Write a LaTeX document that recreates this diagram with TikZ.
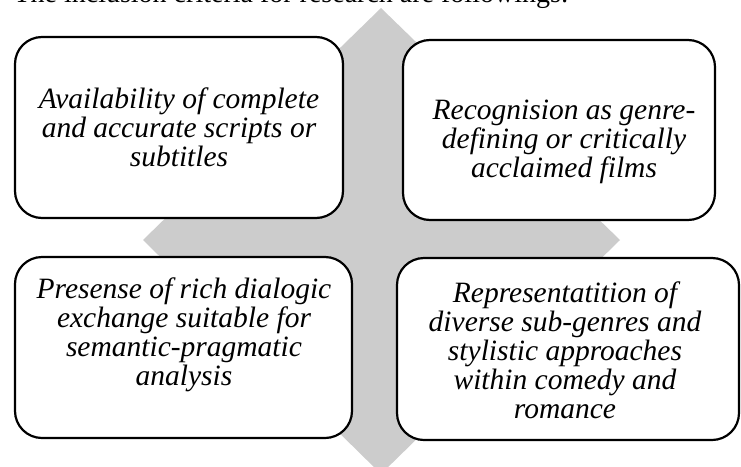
\documentclass[tikz,border=0pt]{standalone}
\usepackage{fontspec}
\setmainfont{Liberation Serif}[ItalicFont={Liberation Serif Italic}]
\definecolor{fond}{RGB}{204,204,204}
\begin{document}
\begin{tikzpicture}[x=1pt, y=-1pt]
	\tikzset{critere/.style={draw=black, line width=2.2pt, rounded corners=27pt, fill=white, inner sep=0pt},
	texte/.style={align=center, font=\itshape\fontsize{29.5}{29}\selectfont}};

	\useasboundingbox (0,0) rectangle (741,466);
	\clip (0,0) rectangle (741,466);

	\node[anchor=base west, font=\fontsize{28}{32}\selectfont] (titre) at (10,2) {The inclusion criteria for research are followings:};
	\fill[fond] (381,8) -- (620,240) -- (381,474) -- (143,240) -- cycle;

	\foreach \name/\x/\y/\w/\h in {hg/179/127.5/328/181, hd/559/130/312/180, bg/183.5/347.5/337/181, bd/568/349/342/182}{
		\node[critere, minimum width=\w pt, minimum height=\h pt] (\name) at (\x, \y) {};
	}

	\node[texte] (t-hg) at (179,127) {Availability of complete\\and accurate scripts or\\subtitles};
	\node[texte] (t-hd) at (564,142) {Recognision as genre-\\defining or critically\\acclaimed films};
	\node[texte] (t-bg) at (184,335) {Presense of rich dialogic\\exchange suitable for\\semantic-pragmatic\\analysis};
	\node[texte] (t-bd) at (565,350) {Representatition of\\diverse sub-genres and\\stylistic approaches\\within comedy and\\romance};

\end{tikzpicture}
\end{document}
